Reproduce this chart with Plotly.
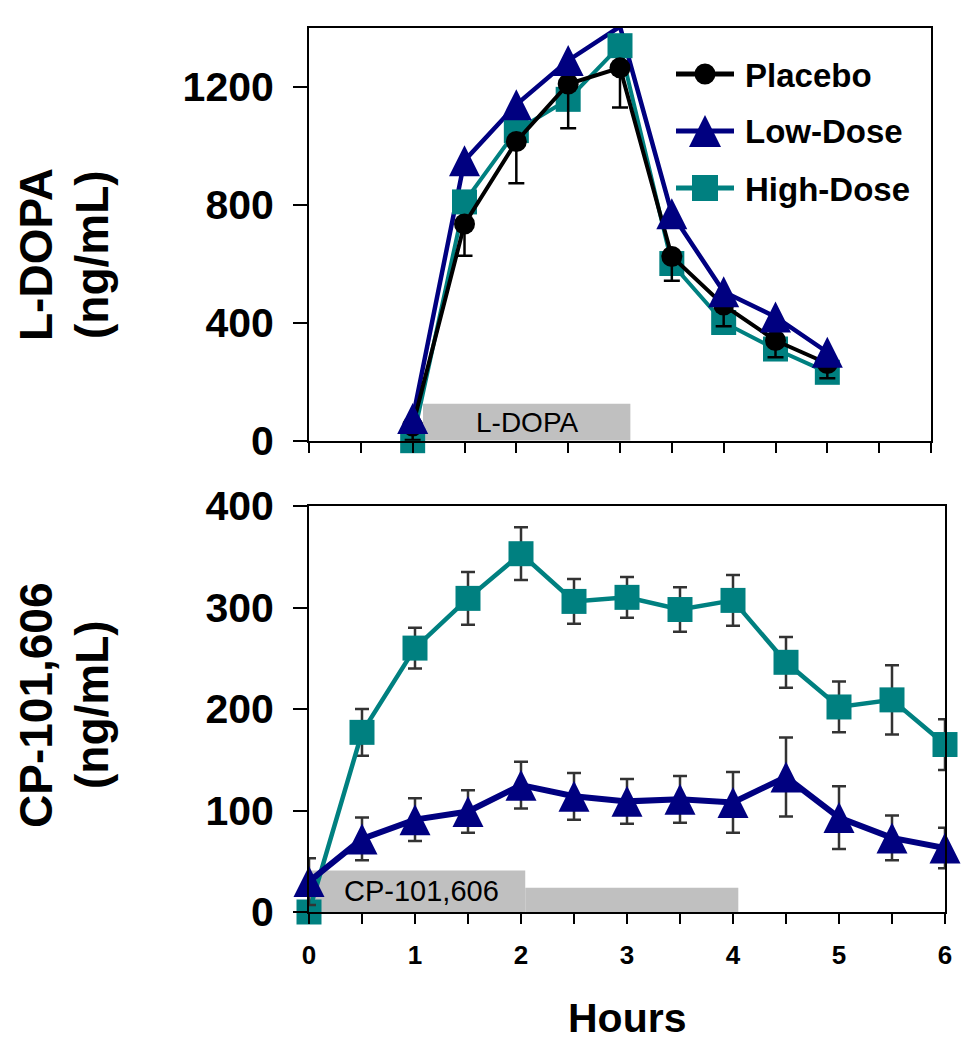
import plotly.graph_objects as go

# ---------------- data ----------------
hours_top = [1.0, 1.5, 2.0, 2.5, 3.0, 3.5, 4.0, 4.5, 5.0]
ldopa_placebo = [50, 735, 1015, 1210, 1265, 625, 460, 340, 262]
ldopa_placebo_err = [48, 108, 142, 150, 135, 82, 72, 57, 50]
ldopa_low = [75, 950, 1140, 1290, 1405, 770, 505, 420, 300]
ldopa_high = [0, 810, 1052, 1158, 1340, 601, 401, 311, 232]

hours_bottom = [0, 0.5, 1.0, 1.5, 2.0, 2.5, 3.0, 3.5, 4.0, 4.5, 5.0, 5.5, 6.0]
cp_low = [30, 72, 91, 99, 125, 114, 109, 111, 108, 133, 93, 73, 63]
cp_low_err = [23, 21, 21, 21, 23, 23, 22, 23, 30, 39, 31, 22, 20]
cp_high = [0, 177, 260, 309, 353, 306, 310, 298, 307, 246, 202, 209, 165]
cp_high_err = [16, 23, 20, 26, 26, 22, 20, 22, 25, 25, 25, 34, 25]

series_names = ["Placebo", "Low-Dose", "High-Dose"]

# dosing periods (hours) and bar heights (axis units)
ldopa_period = [1.1, 3.1]
ldopa_bar_top = 125
cp_period_1 = [0.0, 2.04]
cp_bar_top_1 = 41
cp_period_2 = [2.04, 4.05]
cp_bar_top_2 = 24

top_yticks = [0, 400, 800, 1200]
bottom_yticks = [0, 100, 200, 300, 400]
x_tickvals = [0, 0.5, 1, 1.5, 2, 2.5, 3, 3.5, 4, 4.5, 5, 5.5, 6]
x_ticktext = ["0", "", "1", "", "2", "", "3", "", "4", "", "5", "", "6"]

# ---------------- style / geometry ----------------
FONT = "Liberation Sans, Arial, Helvetica, sans-serif"
BLACK = "#000000"
NAVY = "#000080"
TEAL = "#008080"
GRAY = "#c0c0c0"
ERR_GRAY = "#333333"

PAGE_W, PAGE_H = 973, 1050
BODY = 8                              # default page margin around the plot div
W, H = PAGE_W - BODY, PAGE_H - BODY
TOP_PX = (309, 931, 28, 440.7)        # left, right, top, bottom (page pixels)
BOT_PX = (309, 945, 506, 912)
TOP_RANGE = [0, 1400]
BOT_RANGE = [0, 400]
TRI_SIZE = 31  # triangle marker size (px)


def px_x(p):
    return (p - BODY) / W


def px_y(p):
    return 1 - (p - BODY) / H


def shifted_range(rng, px_span, shift_px):
    # same scale as the base axis, offset so the arrow marker is centred on its point
    per_px = (rng[1] - rng[0]) / px_span
    return [rng[0] - shift_px * per_px, rng[1] - shift_px * per_px]


fig = go.Figure()

# ---- top panel: L-DOPA ----
fig.add_trace(go.Scatter(
    x=hours_top, y=ldopa_low, name=series_names[1], mode="lines",
    line=dict(color=NAVY, width=4.5), xaxis="x", yaxis="y",
    cliponaxis=False, showlegend=False))
fig.add_trace(go.Scatter(
    x=hours_top, y=ldopa_low, name=series_names[1], mode="markers",
    marker=dict(symbol="arrow-up", size=TRI_SIZE, color=NAVY),
    xaxis="x", yaxis="y3", cliponaxis=False, showlegend=False))
fig.add_trace(go.Scatter(
    x=hours_top, y=ldopa_high, name=series_names[2], mode="lines+markers",
    line=dict(color=TEAL, width=4),
    marker=dict(symbol="square", size=25, color=TEAL),
    xaxis="x", yaxis="y", cliponaxis=False, showlegend=False))
fig.add_trace(go.Scatter(
    x=hours_top, y=ldopa_placebo, name=series_names[0], mode="lines+markers",
    line=dict(color=BLACK, width=4),
    marker=dict(symbol="circle", size=21, color=BLACK),
    error_y=dict(type="data", symmetric=False, array=[0] * len(ldopa_placebo),
                 arrayminus=ldopa_placebo_err, color=BLACK, thickness=2.5, width=8),
    xaxis="x", yaxis="y", cliponaxis=False, showlegend=False))

# ---- bottom panel: CP-101,606 ----
fig.add_trace(go.Scatter(
    x=hours_bottom, y=cp_high, name=series_names[2], mode="lines+markers",
    line=dict(color=TEAL, width=4.5),
    marker=dict(symbol="square", size=25, color=TEAL),
    error_y=dict(type="data", array=cp_high_err, color=ERR_GRAY, thickness=2.5, width=7),
    xaxis="x2", yaxis="y2", cliponaxis=False, showlegend=False))
fig.add_trace(go.Scatter(
    x=hours_bottom, y=cp_low, name=series_names[1], mode="lines",
    line=dict(color=NAVY, width=6),
    error_y=dict(type="data", array=cp_low_err, color=ERR_GRAY, thickness=2.5, width=7),
    xaxis="x2", yaxis="y2", cliponaxis=False, showlegend=False))
fig.add_trace(go.Scatter(
    x=hours_bottom, y=cp_low, name=series_names[1], mode="markers",
    marker=dict(symbol="arrow-up", size=TRI_SIZE, color=NAVY),
    xaxis="x2", yaxis="y4", cliponaxis=False, showlegend=False))

axis_common = dict(showline=True, linecolor=BLACK, linewidth=2, mirror=True,
                   showgrid=False, zeroline=False, ticks="outside", tickcolor=BLACK,
                   tickwidth=2, automargin=False)

shapes = [
    dict(type="rect", xref="x", yref="y", x0=ldopa_period[0], x1=ldopa_period[1],
         y0=0, y1=ldopa_bar_top, fillcolor=GRAY, line=dict(width=0), layer="below"),
    dict(type="rect", xref="x2", yref="y2", x0=cp_period_1[0], x1=cp_period_1[1],
         y0=0, y1=cp_bar_top_1, fillcolor=GRAY, line=dict(width=0), layer="below"),
    dict(type="rect", xref="x2", yref="y2", x0=cp_period_2[0], x1=cp_period_2[1],
         y0=0, y1=cp_bar_top_2, fillcolor=GRAY, line=dict(width=0), layer="below"),
]

title_font = dict(family=FONT, size=46, color=BLACK, weight="bold")
annotations = [
    dict(text="L-DOPA", xref="x", yref="y", x=sum(ldopa_period) / 2, y=ldopa_bar_top / 2,
         showarrow=False, font=dict(family=FONT, size=28, color=BLACK)),
    dict(text="CP-101,606", xref="x2", yref="y2", x=1.06, y=cp_bar_top_1 / 2,
         showarrow=False, font=dict(family=FONT, size=29, color=BLACK)),
]
# y-axis titles (two rotated lines each)
for line1, line2, yc in [("L-DOPA", "(ng/mL)", 255), ("CP-101,606", "(ng/mL)", 705)]:
    annotations.append(dict(text=line1, xref="paper", yref="paper", x=px_x(36), y=px_y(yc),
                            textangle=-90, showarrow=False, xanchor="center",
                            yanchor="middle", font=title_font))
    annotations.append(dict(text=line2, xref="paper", yref="paper", x=px_x(92), y=px_y(yc),
                            textangle=-90, showarrow=False, xanchor="center",
                            yanchor="middle", font=title_font))
annotations.append(dict(text="Hours", xref="paper", yref="paper",
                        x=px_x((BOT_PX[0] + BOT_PX[1]) / 2), y=px_y(1018), showarrow=False,
                        xanchor="center", yanchor="middle",
                        font=dict(family=FONT, size=41, color=BLACK, weight="bold")))

# ---- legend (drawn with large symbols, as in the original figure) ----
leg_rows = [74, 131, 188]
leg_colors = [BLACK, NAVY, TEAL]
leg_line = (676, 734)
leg_mid = 705
leg_text_x = 743
for name, col, yy in zip(series_names, leg_colors, leg_rows):
    shapes.append(dict(type="line", xref="paper", yref="paper",
                       x0=px_x(leg_line[0]), x1=px_x(leg_line[1]), y0=px_y(yy), y1=px_y(yy),
                       line=dict(color=col, width=5)))
    annotations.append(dict(text=name, xref="paper", yref="paper", x=px_x(leg_text_x),
                            y=px_y(yy + 1), xanchor="left", yanchor="middle", showarrow=False,
                            font=dict(family=FONT, size=33, color=BLACK, weight="bold")))
# placebo circle
shapes.append(dict(type="circle", xref="paper", yref="paper",
                   x0=px_x(leg_mid - 10.5), x1=px_x(leg_mid + 10.5),
                   y0=px_y(leg_rows[0] - 10.5), y1=px_y(leg_rows[0] + 10.5),
                   fillcolor=BLACK, line=dict(width=0)))
# low-dose triangle
ty = leg_rows[1]
tri = "M {},{} L {},{} L {},{} Z".format(
    px_x(leg_mid), px_y(ty - 16), px_x(leg_mid - 16), px_y(ty + 16),
    px_x(leg_mid + 16), px_y(ty + 16))
shapes.append(dict(type="path", xref="paper", yref="paper", path=tri,
                   fillcolor=NAVY, line=dict(width=0)))
# high-dose square
shapes.append(dict(type="rect", xref="paper", yref="paper",
                   x0=px_x(leg_mid - 13), x1=px_x(leg_mid + 13),
                   y0=px_y(leg_rows[2] - 13), y1=px_y(leg_rows[2] + 13),
                   fillcolor=TEAL, line=dict(width=0)))

fig.update_layout(
    width=W, height=H,
    margin=dict(l=0, r=0, t=0, b=0, pad=0, autoexpand=False),
    paper_bgcolor="white", plot_bgcolor="white",
    font=dict(family=FONT, color=BLACK),
    showlegend=False,
    xaxis=dict(domain=[px_x(TOP_PX[0]), px_x(TOP_PX[1])], anchor="y", range=[0, 6],
               tickvals=x_tickvals, showticklabels=False, ticklen=10, **axis_common),
    yaxis=dict(domain=[px_y(TOP_PX[3]), px_y(TOP_PX[2])], anchor="x", range=TOP_RANGE,
               tickvals=top_yticks, ticklen=14, ticklabelstandoff=11,
               tickfont=dict(family=FONT, size=41, color=BLACK, weight="bold"), **axis_common),
    yaxis3=dict(overlaying="y", anchor="x", visible=False,
                range=shifted_range(TOP_RANGE, TOP_PX[3] - TOP_PX[2], TRI_SIZE / 2)),
    xaxis2=dict(domain=[px_x(BOT_PX[0]), px_x(BOT_PX[1])], anchor="y2", range=[0, 6],
                tickvals=x_tickvals, ticktext=x_ticktext, ticklen=10, ticklabelstandoff=9,
                tickfont=dict(family=FONT, size=26, color=BLACK, weight="bold"), **axis_common),
    yaxis2=dict(domain=[px_y(BOT_PX[3]), px_y(BOT_PX[2])], anchor="x2", range=BOT_RANGE,
                tickvals=bottom_yticks, ticklen=14, ticklabelstandoff=11,
                tickfont=dict(family=FONT, size=41, color=BLACK, weight="bold"), **axis_common),
    yaxis4=dict(overlaying="y2", anchor="x2", visible=False,
                range=shifted_range(BOT_RANGE, BOT_PX[3] - BOT_PX[2], TRI_SIZE / 2)),
    shapes=shapes,
    annotations=annotations,
)

fig.write_html("out.html")
